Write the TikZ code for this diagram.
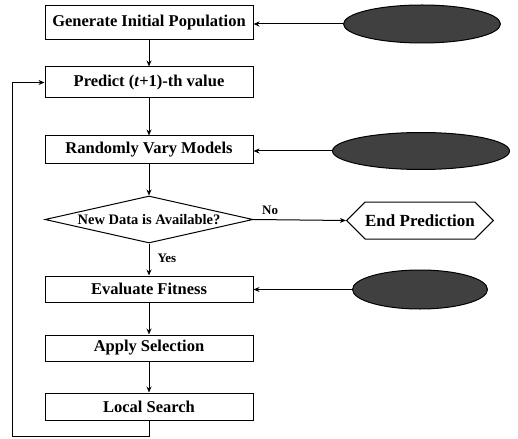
\documentclass[tikz,border=0pt]{standalone}
\usepackage{fontspec}
\setmainfont{Liberation Serif}
\usetikzlibrary{shapes.geometric,shapes.symbols,arrows.meta}
\begin{document}
\begin{tikzpicture}[x=1pt,y=-1pt,
  line width=1pt,
  arr/.style={-{Stealth[length=6pt,width=5pt]}},
  box/.style={draw,rectangle,minimum width=208pt,inner sep=0pt,
    font=\fontsize{16.5}{18}\selectfont\bfseries},
  cloud/.style={draw,ellipse,fill=black!75,inner sep=0pt},
  lab/.style={font=\fontsize{13}{14}\selectfont\bfseries,inner sep=0pt}]
\useasboundingbox (0,0) rectangle (518,438);

\node[box,minimum height=34pt] (b1) at (149,23) {Generate Initial Population};
\node[box,minimum height=31pt] (b2) at (149,82.5) {Predict (\textit{t}+1)-th value};
\node[box,minimum height=28pt] (b3) at (149,150) {Randomly Vary Models};
\node[draw,diamond,aspect=4.4,inner sep=0pt,minimum width=208pt,minimum height=47pt,
  font=\fontsize{14.5}{16}\selectfont\bfseries] (d) at (149,219.5) {New Data is Available?};
\node[draw,signal,signal to=west and east,signal pointer angle=90,inner sep=0pt,
  minimum width=146pt,minimum height=37pt,
  font=\fontsize{17}{18}\selectfont\bfseries] (hx) at (420,220.5) {End Prediction};
\node[box,minimum height=26pt] (b4) at (149,289) {Evaluate Fitness};
\node[box,minimum height=26pt] (b5) at (149,348) {Apply Selection};
\node[box,minimum height=27pt] (b6) at (149,406.5) {Local Search};

\node[cloud,minimum width=157pt,minimum height=38pt] (e1) at (422,24) {};
\node[cloud,minimum width=177pt,minimum height=37pt] (e2) at (421,151) {};
\node[cloud,minimum width=135pt,minimum height=39pt] (e3) at (420,289.5) {};

\draw[arr] (b1) -- (b2);
\draw[arr] (b2) -- (b3);
\draw[arr] (b3) -- (d);
\draw[arr] (b4) -- (b5);
\draw[arr] (b5) -- (b6);
\draw[arr] (d.south) -- node[lab,right=8pt,pos=0.45] {Yes} (b4.north);
\draw[arr] (d.east) -- node[lab,above=5pt,pos=0.18] {No} (hx.west);
\draw[arr] (e1.west) -- (e1.west -| b1.east);
\draw[arr] (e2.west) -- (e2.west -| b3.east);
\draw[arr] (e3.west) -- (e3.west -| b4.east);

\coordinate (lb) at (149,436.5);
\coordinate (ll) at (12,436.5);
\draw[arr] (b6.south) -- (lb) -- (ll) |- (b2.west);
\end{tikzpicture}
\end{document}
